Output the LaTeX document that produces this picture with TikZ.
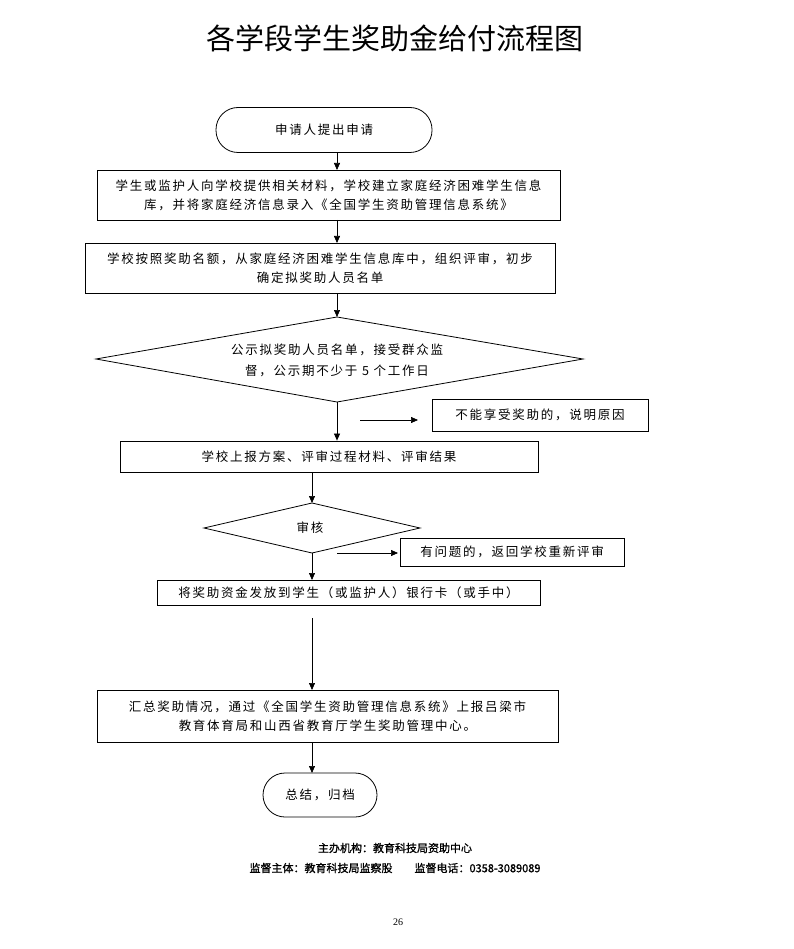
\documentclass[tikz,border=0pt]{standalone}
\usepackage{fontspec}
\setmainfont{Liberation Serif}
\newfontfamily\cjk{Noto Sans CJK SC}
\newfontfamily\cjks{Noto Sans CJK SC}[LetterSpace=14]
\newfontfamily\cjkb{Noto Sans CJK SC}[FakeBold=1.2]
\usetikzlibrary{arrows.meta,shapes.geometric}
\begin{document}
\begin{tikzpicture}[x=1pt,y=-1pt,
  box/.style={draw,line width=0.8pt,inner sep=0pt,font=\cjks\fontsize{12.5}{19}\selectfont,align=center},
  arr/.style={-{Triangle[length=7pt,width=6pt]},line width=0.7pt}]
\useasboundingbox (0,0) rectangle (793,949);
\node[font=\cjk\fontsize{29}{32}\selectfont] (title) at (395,38) {各学段学生奖助金给付流程图};
\node[box,rounded corners=22pt,minimum width=216pt,minimum height=45pt] (s) at (324,130) {申请人提出申请};
\node[box,minimum width=463pt,minimum height=50pt] (b1) at (328.5,195) {学生或监护人向学校提供相关材料，学校建立家庭经济困难学生信息\\库，并将家庭经济信息录入《全国学生资助管理信息系统》};
\node[box,minimum width=470pt,minimum height=50pt] (b2) at (320,268) {学校按照奖助名额，从家庭经济困难学生信息库中，组织评审，初步\\确定拟奖助人员名单};
\draw[line width=0.8pt] (96,359) -- (337,317) -- (583,359) -- (337,402) -- cycle;
\coordinate (d1t) at (337,317); \coordinate (d1b) at (337,402);
\node[font=\cjks\fontsize{12.5}{21}\selectfont,align=center] (d1) at (337,360) {公示拟奖助人员名单，接受群众监\\督，公示期不少于 5 个工作日};
\node[box,minimum width=418pt,minimum height=31pt] (b3) at (329,456.5) {学校上报方案、评审过程材料、评审结果};
\node[box,minimum width=216pt,minimum height=32pt] (n1) at (540,415) {不能享受奖助的，说明原因};
\coordinate (a1s) at (360,420); \coordinate (a1e) at (418,420);
\draw[line width=0.8pt] (204,528) -- (312,503) -- (420,528) -- (312,553) -- cycle;
\coordinate (d2t) at (312,503); \coordinate (d2b) at (312,553);
\node[font=\cjks\fontsize{12.5}{15}\selectfont] (d2) at (310,528) {审核};
\node[box,minimum width=224pt,minimum height=28pt,fill=white] (n2) at (512,552) {有问题的，返回学校重新评审};
\coordinate (a2s) at (337,553); \coordinate (a2e) at (398,553);
\node[box,minimum width=383pt,minimum height=25pt] (b4) at (348.5,592.5) {将奖助资金发放到学生（或监护人）银行卡（或手中）};
\coordinate (a3s) at (312,618);
\node[box,minimum width=461pt,minimum height=52pt] (b5) at (327.5,716) {汇总奖助情况，通过《全国学生资助管理信息系统》上报吕梁市\\教育体育局和山西省教育厅学生奖助管理中心。};
\node[box,rounded corners=22pt,minimum width=114pt,minimum height=44pt] (e) at (320,795) {总结，归档};
\draw[arr] (337,153) -- (337,170);
\draw[arr] (337,220) -- (337,243);
\draw[arr] (337,293) -- (d1t);
\draw[arr] (d1b) -- (d1b|-b3.north);
\draw[arr] (a1s) -- (a1e);
\draw[arr] (312,472) -- (d2t);
\draw[arr] (d2b) -- (312,580);
\draw[arr] (a2s) -- (a2e);
\draw[arr] (a3s) -- (312,690);
\draw[arr] (312,742) -- (312,773);
\node[font=\cjkb\fontsize{11}{13}\selectfont] (f1) at (395,848) {主办机构：教育科技局资助中心};
\node[font=\cjkb\fontsize{11}{13}\selectfont] (f2) at (395,868) {监督主体：教育科技局监察股\hspace{2em}监督电话：0358-3089089};
\node[font=\fontsize{10}{12}\selectfont] (pg) at (398,922) {26};
\end{tikzpicture}
\end{document}
